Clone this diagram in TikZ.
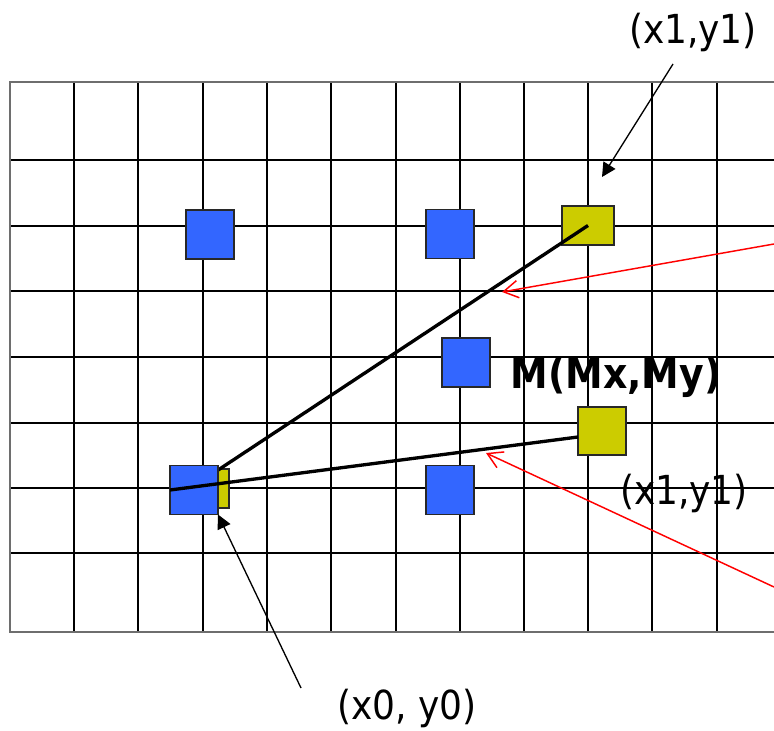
\documentclass[tikz,border=0pt]{standalone}
\usepackage{fontspec}
\newfontfamily\labelfont{DejaVu Sans Condensed}
\usetikzlibrary{arrows.meta}

\tikzset{every picture/.style={line width=0.75pt}}

\begin{document}
\begin{tikzpicture}[x=0.75pt,y=0.75pt,yscale=-1,
  gridline/.style={line width=1.7pt},
  gridedge/.style={draw={rgb, 255:red, 110; green, 110; blue, 110 }, line width=1.2pt},
  cell/.style={draw={rgb, 255:red, 40; green, 40; blue, 40 }, line width=0.9pt, inner sep=0pt, outer sep=0pt},
  bluecell/.style={cell, fill={rgb, 255:red, 51; green, 102; blue, 255 }, minimum width=36pt, minimum height=36.75pt},
  yellowcell/.style={cell, fill={rgb, 255:red, 204; green, 204; blue, 0 }, minimum width=39pt, minimum height=29.25pt},
  seg/.style={line width=2.5pt},
  ptr/.style={-{Triangle[length=10.5pt,width=10.5pt]}, line width=1pt},
  redptr/.style={draw={rgb, 255:red, 255; green, 0; blue, 0 }, -{Straight Barb[length=11pt,width=13pt]}, line width=1.1pt},
  lbl/.style={font=\labelfont\fontsize{30}{36}\selectfont, inner sep=0pt}
]
\useasboundingbox (0,0) rectangle (774,731);

%Straight Lines [grid]
\foreach \x in {74,138,203,267,331,396,460,524,588,652,717} {
  \draw [gridline] (\x,82) -- (\x,632);
}
\foreach \y in {160,226,291,357,423,488,553} {
  \draw [gridline] (10,\y) -- (774,\y);
}
\draw [gridedge] (774,82) -- (10,82) -- (10,632) -- (774,632);

%Shape: Rectangle [yellow cells]
\node [yellowcell] (y0) at (203,488.5) {};
\node [yellowcell] (yT) at (588,225.5) {};
\node [yellowcell, minimum width=36pt, minimum height=36pt] (yR) at (602,431) {};

%Straight Lines [first line]
\coordinate (p0) at (203,480);
\draw [seg] (p0) -- (yT.center);

%Shape: Rectangle [blue cells]
\node [bluecell] (bA) at (210,234.5) {};
\node [bluecell] (bB) at (450,234) {};
\node [bluecell] (bM) at (466,362.5) {};
\node [bluecell] (bC) at (450,490) {};
\node [bluecell] (b0) at (194,490) {};

%Straight Lines [second line]
\draw [seg] (b0.west) -- ([yshift=4.5pt]yR.west);

% Text Node
\node [lbl] (t1) at (693,32) {(x1,y1)};
% Text Node
\node [lbl, font=\labelfont\bfseries\fontsize{31.5}{38}\selectfont] (tM) at (616,377) {M(Mx,My)};
% Text Node
\node [lbl] (tR) at (684,493) {(x1,y1)};
% Text Node
\node [lbl] (tx0) at (407,708) {(x0, y0)};

%Straight Lines [pointers]
\coordinate (a1) at (673,64);
\coordinate (a1e) at (602,177);
\draw [ptr] (a1) -- (a1e);
\coordinate (a0) at (301,688);
\draw [ptr] (a0) -- (b0.south east);
\coordinate (r1s) at (774,244);
\coordinate (r1e) at (502,292);
\draw [redptr] (r1s) -- (r1e);
\coordinate (r2s) at (774,587);
\coordinate (r2e) at (486,453);
\draw [redptr] (r2s) -- (r2e);

\end{tikzpicture}
\end{document}
